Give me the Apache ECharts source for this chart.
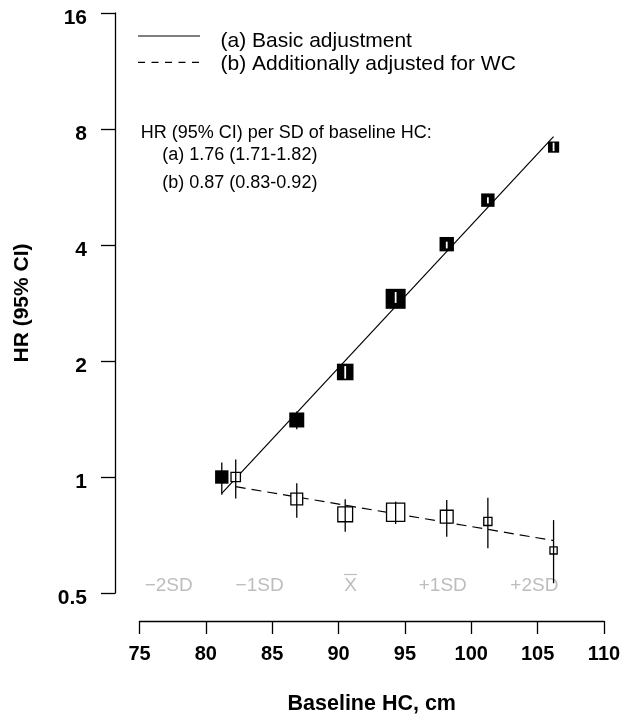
<!DOCTYPE html>
<html><head><meta charset="utf-8">
<script src="https://cdn.jsdelivr.net/npm/echarts@6/dist/echarts.min.js"></script>
<style>html,body{margin:0;padding:0;background:#fff}#c{width:634px;height:718px}</style>
</head><body><div id="c"></div>
<script>
const FONT = '"Liberation Sans", Arial, Helvetica, sans-serif';

// ---- data ----
const hcA = [81.2, 86.85, 90.5, 94.3, 98.15, 101.25, 106.2];
const hrA = [1.0, 1.406, 1.873, 2.90, 4.02, 5.23, 7.18];
const loA = [0.90, 1.33, 1.80, 2.83, 3.92, 5.13, 7.01];
const hiA = [1.09, 1.48, 1.94, 3.02, 4.08, 5.32, 7.37];
const weightA = [0.67, 0.75, 0.83, 1.0, 0.72, 0.67, 0.56];

const hcB = [82.25, 86.85, 90.5, 94.3, 98.15, 101.25, 106.2];
const hrB = [1.0, 0.877, 0.80, 0.81, 0.789, 0.767, 0.645];
const loB = [0.88, 0.784, 0.721, 0.755, 0.70, 0.653, 0.530];
const hiB = [1.11, 0.963, 0.875, 0.863, 0.872, 0.884, 0.773];
const weightB = [0.53, 0.65, 0.8, 0.97, 0.7, 0.47, 0.42];

const fitXA = [81.2, 106.2];
const fitYA = [0.907, 7.64];
const fitXB = [82.25, 106.2];
const fitYB = [0.944, 0.684];

const sdX = [77.2, 84.05, 90.9, 97.85, 104.75];
const sdLabels = ['\u22122SD', '\u22121SD', 'X', '+1SD', '+2SD'];

const xTicks = [75, 80, 85, 90, 95, 100, 105, 110];
const yTicks = [0.5, 1, 2, 4, 8, 16];

const legendNames = ['(a) Basic adjustment', '(b) Additionally adjusted for WC'];
const noteLines = ['HR (95% CI) per SD of baseline HC:', '(a) 1.76 (1.71-1.82)', '(b) 0.87 (0.83-0.92)'];

// ---- chart ----
const BOX_MAX = 20;
const chart = echarts.init(document.getElementById('c'), null, {renderer: 'canvas'});

function boxSeries(xs, ys, los, his, ws, filled) {
  return {
    type: 'custom', coordinateSystem: 'cartesian2d', z: 5, clip: false,
    data: xs.map((x, i) => [x, ys[i], los[i], his[i], ws[i]]),
    renderItem: (params, api) => {
      const x = api.value(0);
      const c = api.coord([x, api.value(1)]);
      const pLo = api.coord([x, api.value(2)]);
      const pHi = api.coord([x, api.value(3)]);
      const s = api.value(4) * BOX_MAX;
      const h = s / 2;
      const inside = pHi[1] >= c[1] - h && pLo[1] <= c[1] + h;
      const ci = (color, w) => ({type: 'line', shape: {x1: c[0], y1: pHi[1], x2: c[0], y2: pLo[1]},
        style: {stroke: color, lineWidth: w}});
      let children;
      if (filled) {
        const rect = {type: 'rect', shape: {x: c[0] - h, y: c[1] - h, width: s, height: s}, style: {fill: '#000'}};
        children = inside ? [rect, ci('#fff', 1.8)] : [ci('#000', 1.3), rect];
      } else {
        const rect = {type: 'rect', shape: {x: c[0] - h + 0.6, y: c[1] - h + 0.6, width: s - 1.2, height: s - 1.2},
          style: {fill: '#fff', stroke: '#000', lineWidth: 1.3}};
        children = [rect, ci('#000', 1.3)];
      }
      return {type: 'group', children};
    }
  };
}

const option = {
  animation: false,
  backgroundColor: '#fff',
  grid: {left: 139.5, right: 30, top: 13, bottom: 125, containLabel: false, outerBoundsMode: 'none'},
  xAxis: {
    type: 'value', min: xTicks[0], max: xTicks[xTicks.length - 1], interval: 5,
    position: 'bottom', offset: 28,
    axisLine: {show: true, lineStyle: {color: '#000', width: 1.3}},
    axisTick: {show: true, length: 13, lineStyle: {color: '#000', width: 1.3}},
    splitLine: {show: false},
    axisLabel: {color: '#000', fontFamily: FONT, fontWeight: 'bold', fontSize: 20, margin: 23},
    name: 'Baseline HC, cm', nameLocation: 'middle', nameGap: 72,
    nameTextStyle: {color: '#000', fontFamily: FONT, fontWeight: 'bold', fontSize: 21.5}
  },
  yAxis: {
    type: 'log', logBase: 2, min: yTicks[0], max: yTicks[yTicks.length - 1],
    offset: 24.5,
    axisLine: {show: true, lineStyle: {color: '#000', width: 1.3}},
    axisTick: {show: true, length: 14, lineStyle: {color: '#000', width: 1.3}},
    splitLine: {show: false},
    minorTick: {show: false},
    axisLabel: {color: '#000', fontFamily: FONT, fontWeight: 'bold', fontSize: 21, margin: 28,
      verticalAlign: 'top', lineHeight: 10,
      formatter: v => String(Math.round(v * 1000) / 1000)},
    name: 'HR (95% CI)', nameLocation: 'middle', nameGap: 82, nameRotate: 90,
    nameTextStyle: {color: '#000', fontFamily: FONT, fontWeight: 'bold', fontSize: 21}
  },
  series: [
    {type: 'line', z: 2, symbol: 'none', silent: true,
      data: fitXA.map((x, i) => [x, fitYA[i]]),
      lineStyle: {color: '#000', width: 1.2, type: 'solid'}},
    {type: 'line', z: 2, symbol: 'none', silent: true,
      data: fitXB.map((x, i) => [x, fitYB[i]]),
      lineStyle: {color: '#000', width: 1.2, type: [10, 6]}},
    boxSeries(hcA, hrA, loA, hiA, weightA, true),
    boxSeries(hcB, hrB, loB, hiB, weightB, false),
    {
      type: 'custom', coordinateSystem: 'cartesian2d', z: 1, clip: false, silent: true,
      data: sdX.map(x => [x, yTicks[0]]),
      renderItem: (params, api) => {
        const p = api.coord([api.value(0), api.value(1)]);
        const label = sdLabels[params.dataIndex];
        const yc = p[1] - 7;
        const children = [{type: 'text', x: p[0], y: yc,
          style: {text: label, fill: '#bdbdbd', font: '19px ' + FONT, align: 'center', verticalAlign: 'middle'}}];
        if (label === 'X') {
          children.push({type: 'line', shape: {x1: p[0] - 6.5, y1: yc - 11.5, x2: p[0] + 6.5, y2: yc - 11.5},
            style: {stroke: '#bdbdbd', lineWidth: 1.2}});
        }
        return {type: 'group', children};
      }
    }
  ],
  graphic: [
    {type: 'line', shape: {x1: 138, y1: 36, x2: 200, y2: 36}, style: {stroke: '#000', lineWidth: 1.2}},
    {type: 'line', shape: {x1: 138, y1: 62.3, x2: 200, y2: 62.3}, style: {stroke: '#000', lineWidth: 1.2, lineDash: [7, 6.5]}},
    {type: 'text', x: 220.5, y: 41, style: {text: legendNames[0], fill: '#000', font: '21px ' + FONT, verticalAlign: 'middle'}},
    {type: 'text', x: 220.5, y: 64, style: {text: legendNames[1], fill: '#000', font: '21px ' + FONT, verticalAlign: 'middle'}},
    {type: 'text', x: 140.7, y: 133.5, style: {text: noteLines[0], fill: '#000', font: '18px ' + FONT, verticalAlign: 'middle'}},
    {type: 'text', x: 162.3, y: 155, style: {text: noteLines[1], fill: '#000', font: '18px ' + FONT, verticalAlign: 'middle'}},
    {type: 'text', x: 162.3, y: 183, style: {text: noteLines[2], fill: '#000', font: '18px ' + FONT, verticalAlign: 'middle'}}
  ]
};
chart.setOption(option);
</script>
</body></html>
